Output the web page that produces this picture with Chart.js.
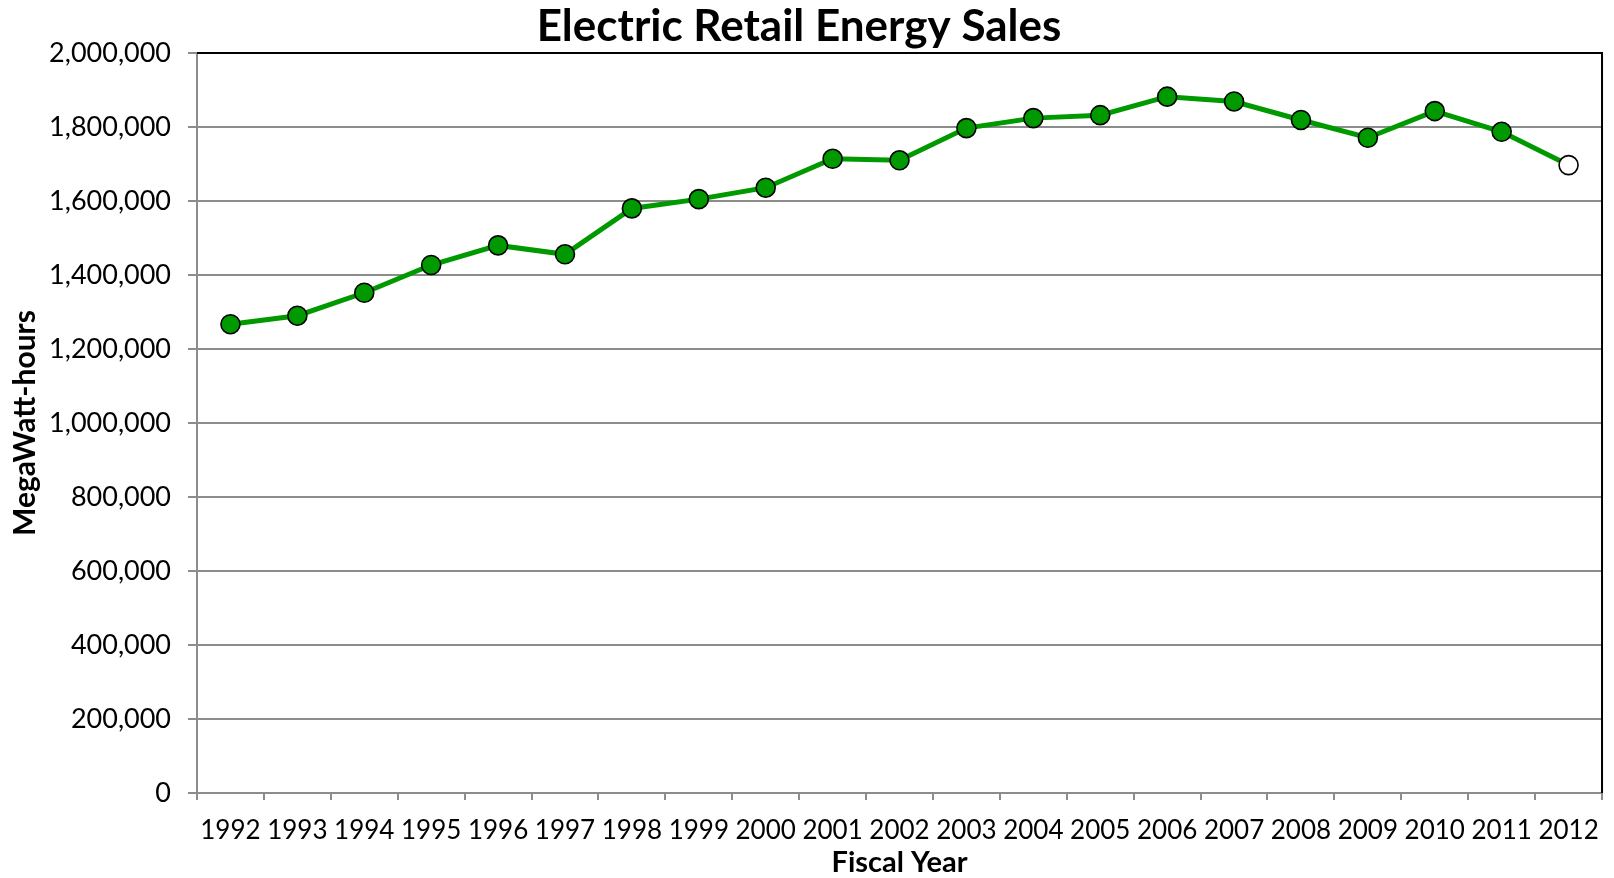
<!DOCTYPE html>
<html>
<head>
<meta charset="utf-8">
<script src="https://cdn.jsdelivr.net/npm/chart.js@4.4.1/dist/chart.umd.min.js"></script>
<style>
html,body{margin:0;padding:0;background:#fff;}
#wrap{width:1614px;height:878px;position:relative;}
</style>
</head>
<body>
<div id="wrap"><canvas id="c" width="1614" height="878"></canvas></div>
<script>
const years = ['1992','1993','1994','1995','1996','1997','1998','1999','2000','2001','2002','2003','2004','2005','2006','2007','2008','2009','2010','2011','2012'];
const sales = [1267000,1290000,1352000,1427000,1480000,1456000,1580000,1605000,1636000,1714000,1710000,1797000,1824000,1832000,1882000,1869000,1819000,1771000,1843000,1787000,1697000];
const yTicks = [0,200000,400000,600000,800000,1000000,1200000,1400000,1600000,1800000,2000000];

const FONT = 'Lato, "Open Sans", sans-serif';

const frame = {
  id: 'frame',
  afterLayout(chart) {
    const t = chart.titleBlock;
    if (t) { t.right = t.left + 1598; }
  },
  beforeDatasetsDraw(chart) {
    const {ctx, chartArea: a} = chart;
    ctx.save();
    ctx.strokeStyle = '#000';
    ctx.lineWidth = 2;
    ctx.beginPath();
    ctx.moveTo(a.left, a.top);
    ctx.lineTo(a.right, a.top);
    ctx.lineTo(a.right, a.bottom);
    ctx.stroke();
    ctx.restore();
  }
};

new Chart(document.getElementById('c'), {
  type: 'line',
  data: {
    labels: years,
    datasets: [{
      data: sales,
      borderColor: '#009a00',
      borderWidth: 5,
      pointRadius: 9.5,
      pointHoverRadius: 9.5,
      pointBorderWidth: 1.6,
      pointBorderColor: '#000',
      pointBackgroundColor: years.map((y, i) => i === years.length - 1 ? '#ffffff' : '#009a00'),
      tension: 0,
      fill: false
    }]
  },
  options: {
    responsive: false,
    animation: false,
    devicePixelRatio: 1,
    layout: { padding: { left: 0, right: 9, top: 0, bottom: 0 } },
    plugins: {
      legend: { display: false },
      tooltip: { enabled: false },
      title: {
        display: true,
        text: 'Electric Retail Energy Sales',
        color: '#000',
        font: { family: FONT, size: 44, weight: 'bold', lineHeight: 1.0 },
        padding: { top: 5, bottom: 4 }
      }
    },
    scales: {
      x: {
        type: 'category',
        offset: true,
        afterFit(s) { s.height = 85; },
        grid: {
          offset: true,
          drawOnChartArea: false,
          drawTicks: true,
          tickLength: 7,
          color: '#8c8c8c',
          lineWidth: 2
        },
        border: { display: true, color: '#8c8c8c', width: 2 },
        ticks: {
          color: '#000',
          font: { family: FONT, size: 26 },
          padding: 15,
          maxRotation: 0,
          autoSkip: false
        },
        title: {
          display: true,
          text: 'Fiscal Year',
          color: '#000',
          font: { family: FONT, size: 29, weight: 'bold', lineHeight: 1.2 },
          padding: { top: 0, bottom: -2 }
        }
      },
      y: {
        min: 0,
        max: 2000000,
        afterFit(s) { s.width = 197; },
        afterBuildTicks(s) { s.ticks = yTicks.map(v => ({ value: v })); },
        grid: {
          color: '#8c8c8c',
          lineWidth: 2,
          tickLength: 9,
          drawTicks: true
        },
        border: { display: true, color: '#8c8c8c', width: 2 },
        ticks: {
          color: '#000',
          font: { family: FONT, size: 27 },
          padding: 17,
          callback: v => Number(v).toLocaleString('en-US')
        },
        title: {
          display: true,
          text: 'MegaWatt-hours',
          color: '#000',
          font: { family: FONT, size: 30, weight: 'bold', lineHeight: 1.2 },
          padding: { top: 7, bottom: 0 }
        }
      }
    }
  },
  plugins: [frame]
});
</script>
</body>
</html>
